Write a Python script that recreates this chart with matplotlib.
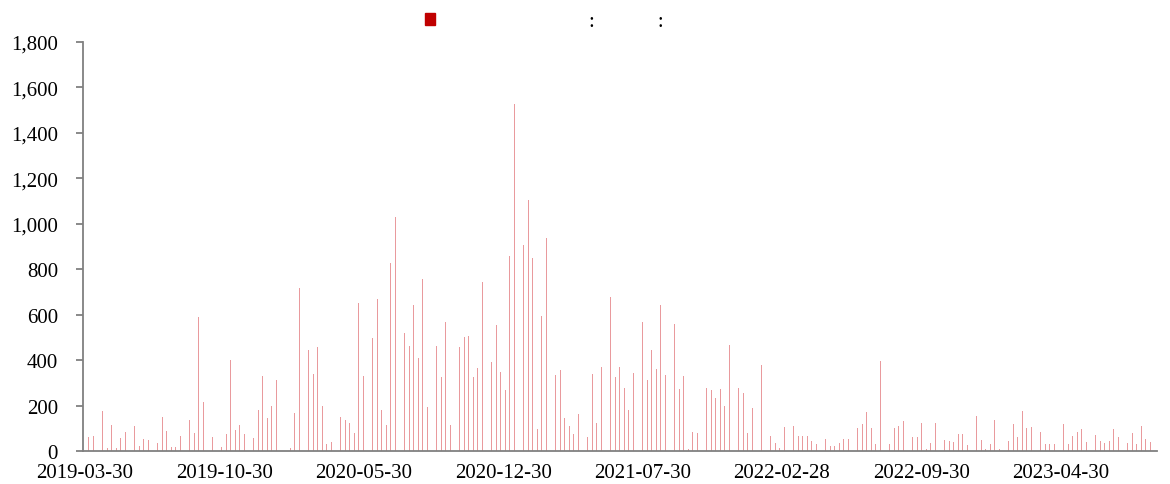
import pandas as pd
import matplotlib
matplotlib.use("Agg")
import matplotlib.pyplot as plt
from matplotlib.patches import Patch
from matplotlib.ticker import FuncFormatter

# weekly values
start_date = "2019-04-05"
values = [
    60, 66, 53, 175, 12, 113, 12, 56, 82, 41,
    112, 22, 55, 48, 29, 34, 151, 87, 16, 16,
    65, 19, 138, 79, 588, 216, 0, 63, 138, 19,
    73, 402, 94, 113, 75, 69, 59, 182, 332, 144,
    200, 311, 499, 0, 15, 169, 716, 340, 446, 340,
    456, 200, 33, 40, 156, 150, 135, 123, 81, 650,
    332, 135, 499, 670, 179, 113, 829, 1030, 776, 521,
    461, 641, 411, 757, 194, 606, 461, 324, 566, 116,
    491, 456, 500, 507, 327, 367, 742, 200, 390, 554,
    346, 267, 860, 1525, 1201, 908, 1103, 851, 95, 593,
    939, 522, 333, 358, 144, 110, 73, 161, 421, 60,
    337, 125, 370, 258, 676, 326, 370, 279, 179, 342,
    707, 566, 311, 446, 359, 642, 333, 349, 557, 271,
    329, 10, 85, 79, 553, 276, 267, 232, 274, 200,
    465, 182, 276, 255, 79, 188, 368, 380, 0, 65,
    37, 15, 105, 155, 110, 65, 65, 65, 45, 30,
    30, 55, 20, 20, 35, 55, 55, 45, 100, 120,
    170, 100, 30, 395, 135, 30, 100, 110, 130, 105,
    60, 60, 125, 10, 35, 125, 20, 50, 45, 40,
    75, 75, 25, 65, 155, 50, 10, 30, 135, 10,
    35, 45, 120, 60, 175, 100, 105, 75, 85, 30,
    30, 30, 175, 120, 30, 65, 85, 95, 40, 55,
    70, 45, 35, 45, 95, 60, 35, 35, 80, 30,
    110, 55, 40, 40,
]
tick_labels = ["2019-03-30", "2019-10-30", "2020-05-30", "2020-12-30",
               "2021-07-30", "2022-02-28", "2022-09-30", "2023-04-30"]
legend_label = "                            :            :"

dates = pd.date_range(start_date, periods=len(values), freq="7D")

plt.rcParams["font.family"] = ["Liberation Serif", "DejaVu Serif"]
fig = plt.figure(figsize=(11.7, 4.85), dpi=100)
ax = fig.add_axes([83 / 1170, 1 - 452 / 485, (1157 - 83) / 1170, (452 - 43) / 485])

ax.bar(dates, values, width=1.3, color="#E99A9D", linewidth=0)

ax.set_ylim(0, 1800)
ax.set_yticks(range(0, 1801, 200))
ax.yaxis.set_major_formatter(FuncFormatter(lambda v, p: f"{v:,.0f}"))
ax.set_xlim(pd.Timestamp("2019-03-27"), dates[-1] + pd.Timedelta(days=3))
ax.set_xticks(pd.to_datetime(tick_labels))
ax.set_xticklabels(tick_labels)

for s in ["top", "right"]:
    ax.spines[s].set_visible(False)
for s in ["left", "bottom"]:
    ax.spines[s].set_color("#808080")
    ax.spines[s].set_linewidth(1.3)
ax.tick_params(axis="y", length=5, width=1.3, color="#808080", labelsize=15, pad=13)
ax.tick_params(axis="x", length=0, labelsize=15, pad=9)

fig.legend(handles=[Patch(color="#C00000", label=legend_label)],
           loc="upper left", bbox_to_anchor=(425 / 1170, 1 - 13 / 485),
           frameon=False, fontsize=15, borderpad=0, borderaxespad=0,
           handlelength=0.5, handleheight=0.5, handletextpad=0.3)

fig.savefig("out.png", dpi=100)
